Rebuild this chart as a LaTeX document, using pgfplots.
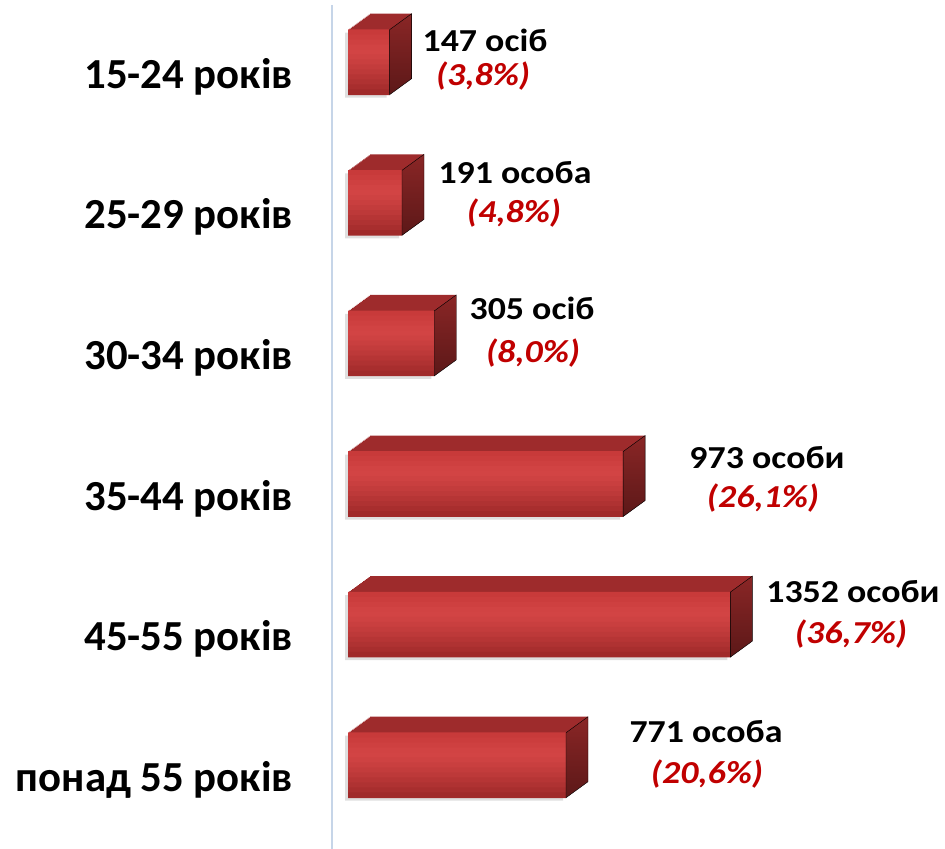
\documentclass[border=0pt]{standalone}
\usepackage{fontspec}
\setmainfont{Carlito}
\newfontfamily\valfont[FakeStretch=1.12]{Carlito}
\usepackage{pgfplots}
\pgfplotsset{compat=1.18}
\usepackage{pgfplotstable}

\definecolor{frontTop}{HTML}{C83A3A}
\definecolor{frontMid}{HTML}{D24444}
\definecolor{frontBot}{HTML}{A02A2A}
\definecolor{topFace}{HTML}{9E2B2C}
\definecolor{sideTop}{HTML}{8A2626}
\definecolor{sideBot}{HTML}{5C1818}
\definecolor{axisBlue}{HTML}{C6D5E8}
\definecolor{pctRed}{HTML}{C00000}

\pgfdeclareplotmark{sideface}{%
  \shade[top color=sideTop, bottom color=sideBot]
    (0bp,-32.5bp) -- (0bp,32.5bp) -- (22bp,48.5bp) -- (22bp,-16.5bp) -- cycle;
}

\pgfplotstableread{
x y
147 0
191 1
305 2
973 3
1352 4
771 5
}\agedata

\newcommand{\vl}{\valfont\bfseries\fontsize{32bp}{32bp}\selectfont}
\newcommand{\pl}{\valfont\bfseries\itshape\fontsize{32bp}{32bp}\selectfont\color{pctRed}}
% one horizontal strip of the front face: #1 = vertical offset (bp), #2 = colour
\newcommand{\strip}[2]{\addplot[xbar, draw=none, fill=#2, bar width=5.6bp, yshift=#1, forget plot] table[x=x,y=y] {\agedata};}

\begin{document}
\begin{tikzpicture}
\path[use as bounding box] (0,0) rectangle (945bp,849bp);
\begin{axis}[
  at={(332bp,0bp)}, anchor=south west,
  scale only axis, width=613bp, height=844bp,
  xmin=-56.6, xmax=2111,
  ymin=-0.407, ymax=5.596, y dir=reverse,
  axis x line=none, axis y line=left,
  y axis line style={-, draw=axisBlue, line width=2bp},
  xtick=\empty,
  ytick={0,1,2,3,4,5},
  yticklabels={15-24 років,25-29 років,30-34 років,35-44 років,45-55 років,понад 55 років},
  major tick length=0pt,
  yticklabel style={font=\bfseries\fontsize{42.8bp}{42.8bp}\selectfont, anchor=base east, inner sep=0pt, xshift=-39bp, yshift=-26bp},
  clip=false,
  bar width=65bp,
]
% shadow
\addplot[xbar, draw=none, fill=black!25, opacity=0.5, xshift=-3bp, yshift=-3bp, forget plot] table[x=x,y=y] {\agedata};
% depth extrusion (top face)
\pgfplotsinvokeforeach{16,15,...,1}{
  \addplot[xbar, draw=none, fill=topFace, xshift=#1*1.375bp, yshift=#1*1bp, forget plot] table[x=x,y=y] {\agedata};
}
% front face, vertical gradient in strips
\strip{30bp}{frontTop}
\strip{25bp}{frontMid!35!frontTop}
\strip{20bp}{frontMid!65!frontTop}
\strip{15bp}{frontMid!90!frontTop}
\strip{10bp}{frontMid}
\strip{5bp}{frontMid!92!frontBot}
\strip{0bp}{frontMid!82!frontBot}
\strip{-5bp}{frontMid!70!frontBot}
\strip{-10bp}{frontMid!57!frontBot}
\strip{-15bp}{frontMid!44!frontBot}
\strip{-20bp}{frontMid!30!frontBot}
\strip{-25bp}{frontMid!15!frontBot}
\strip{-30bp}{frontBot}
% side face
\addplot[only marks, mark=sideface, forget plot] table[x=x,y=y] {\agedata};

% value labels
\node[anchor=base, inner sep=0pt] at (axis cs:484.4,-0.0797) {\vl 147 осіб};
\node[anchor=base, inner sep=0pt] at (axis cs:477.4,0.1622) {\pl (3,8\%)};
\node[anchor=base, inner sep=0pt] at (axis cs:590.5,0.8592) {\vl 191 особа};
\node[anchor=base, inner sep=0pt] at (axis cs:587.0,1.1366) {\pl (4,8\%)};
\node[anchor=base, inner sep=0pt] at (axis cs:650.6,1.8264) {\vl 305 осіб};
\node[anchor=base, inner sep=0pt] at (axis cs:654.2,2.1323) {\pl (8,0\%)};
\node[anchor=base, inner sep=0pt] at (axis cs:1481.6,2.8862) {\vl 973 особи};
\node[anchor=base, inner sep=0pt] at (axis cs:1467.5,3.1636) {\pl (26,1\%)};
\node[anchor=base, inner sep=0pt] at (axis cs:1785.7,3.8393) {\vl 1352 особи};
\node[anchor=base, inner sep=0pt] at (axis cs:1778.6,4.1309) {\pl (36,7\%)};
\node[anchor=base, inner sep=0pt] at (axis cs:1265.9,4.8350) {\vl 771 особа};
\node[anchor=base, inner sep=0pt] at (axis cs:1269.4,5.1266) {\pl (20,6\%)};
\end{axis}
\end{tikzpicture}
\end{document}
